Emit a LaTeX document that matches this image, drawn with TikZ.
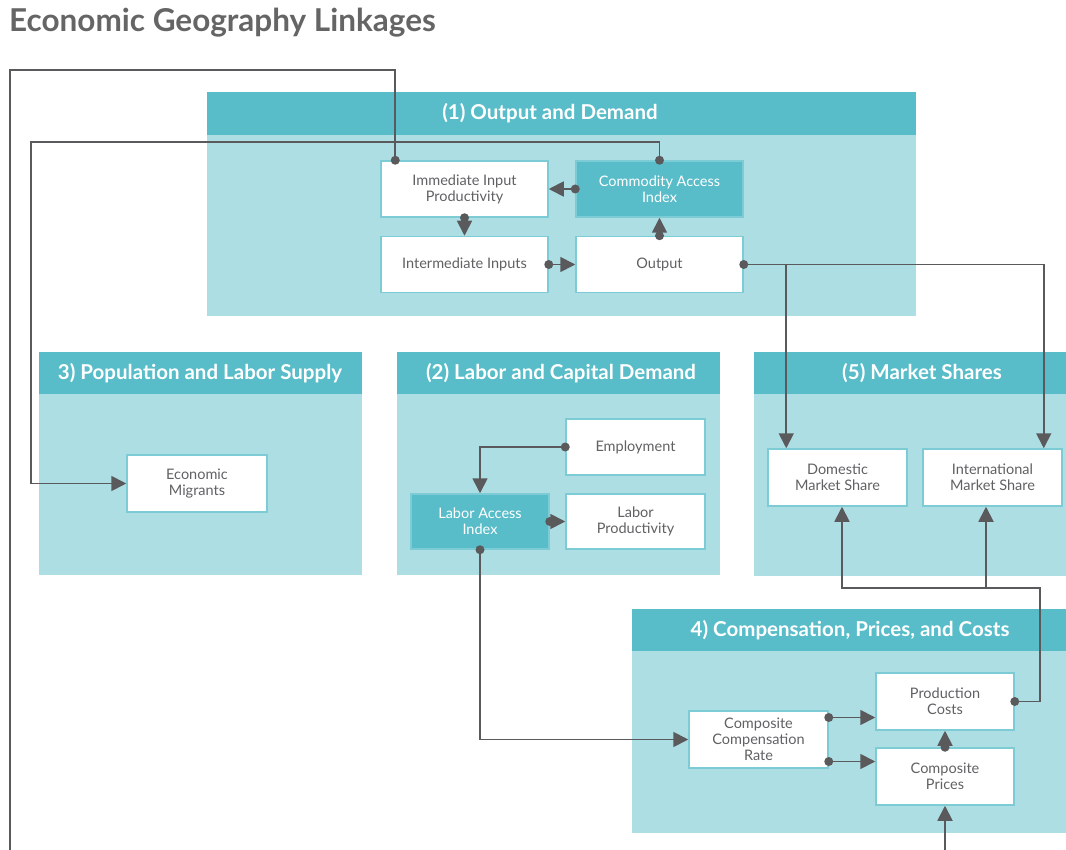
\documentclass[tikz,border=0pt]{standalone}
\usepackage{fontspec}
\setmainfont{Lato}
\usetikzlibrary{arrows.meta,calc}
\definecolor{hdr}{HTML}{58BDC9}
\definecolor{bodyc}{HTML}{ADDEE3}
\definecolor{bord}{HTML}{7DCCD5}
\definecolor{ln}{HTML}{5A5A5C}
\definecolor{txt}{HTML}{606163}
\definecolor{ttl}{HTML}{656565}
\begin{document}
\begin{tikzpicture}[x=1pt,y=-1pt,
  wbox/.style={draw=bord, line width=1.5pt, fill=white, text=txt, align=center,
    font=\fontsize{14.5}{16}\selectfont, inner sep=2pt},
  dbox/.style={wbox, fill=hdr, text=white},
  hdrtext/.style={text=white, font=\bfseries\fontsize{20.5}{24}\selectfont},
  panelbody/.style={fill=bodyc},
  panelhead/.style={fill=hdr},
  conn/.style={draw=ln, line width=1.8pt},
  arr/.style={conn, -{Triangle[length=15pt,width=15pt]}},
  dotc/.style={fill=ln}]
\useasboundingbox (0,0) rectangle (1066,850);

% title
\node[anchor=west, text=ttl, font=\bfseries\fontsize{31.5}{36}\selectfont, inner sep=0pt] (title) at (9,23) {Economic Geography Linkages};

% panels
\fill[panelbody] (207,92) rectangle (916,316);
\fill[panelhead] (207,92) rectangle (916,135);
\node[hdrtext] (h1) at (550,113) {(1) Output and Demand};

\fill[panelbody] (39,352) rectangle (362,575);
\fill[panelhead] (39,352) rectangle (362,394);
\node[hdrtext] (h3) at (200,373) {3) Population and Labor Supply};

\fill[panelbody] (397,352) rectangle (720,575);
\fill[panelhead] (397,352) rectangle (720,394);
\node[hdrtext] (h2) at (561,373) {(2) Labor and Capital Demand};

\fill[panelbody] (754,352) rectangle (1066,576);
\fill[panelhead] (754,352) rectangle (1066,394);
\node[hdrtext] (h5) at (922,373) {(5) Market Shares};

\fill[panelbody] (632,609) rectangle (1066,833);
\fill[panelhead] (632,609) rectangle (1066,651);
\node[hdrtext] (h4) at (850,630) {4) Compensation, Prices, and Costs};

% boxes
\node[wbox, minimum width=167, minimum height=56] (iip) at (464.5,189) {Immediate Input\\Productivity};
\node[dbox, minimum width=167, minimum height=56] (cai) at (659.5,189) {Commodity Access\\Index};
\node[wbox, minimum width=167, minimum height=56] (ii) at (464.5,264.5) {Intermediate Inputs};
\node[wbox, minimum width=167, minimum height=56] (out) at (659.5,264.5) {Output};

\node[wbox, minimum width=140, minimum height=57] (em) at (197,483.5) {Economic\\Migrants};

\node[wbox, minimum width=139, minimum height=56] (emp) at (635.5,447) {Employment};
\node[dbox, minimum width=138, minimum height=55] (lai) at (480,521.5) {Labor Access\\Index};
\node[wbox, minimum width=139, minimum height=55] (lp) at (635.5,521.5) {Labor\\Productivity};

\node[wbox, minimum width=139, minimum height=57] (dms) at (837.5,477.5) {Domestic\\Market Share};
\node[wbox, minimum width=139, minimum height=57] (ims) at (992.5,477.5) {International\\Market Share};

\node[wbox, minimum width=139, minimum height=57] (ccr) at (758.5,739.5) {Composite\\Compensation\\Rate};
\node[wbox, minimum width=138, minimum height=57] (pc) at (945,701.5) {Production\\Costs};
\node[wbox, minimum width=138, minimum height=57] (cp) at (945,776.5) {Composite\\Prices};

% free-end and helper coordinates
\coordinate (lt) at (10,70);
\coordinate (lb) at (10,850);
\coordinate (c2) at (31,142);
\coordinate (c4) at (1040,588);
\coordinate (cpb) at (945,850);
\coordinate (iipt) at ([xshift=15pt]iip.north west);
\coordinate (ccr1) at ([yshift=22pt]ccr.east);
\coordinate (ccr2) at ([yshift=-22pt]ccr.east);
\coordinate (dmst) at ([xshift=19pt]dms.north west);
\coordinate (imst) at ([xshift=-19pt]ims.north east);
\coordinate (dmsb) at ([xshift=4.5pt]dms.south);
\coordinate (imsb) at ([xshift=-6.5pt]ims.south);

% connectors
\draw[conn] (iipt) |- (lt) -- (lb);
\draw[arr] (cai.north) |- (c2) |- (em.west);
\draw[arr] (cai.west) -- (iip.east);
\draw[arr] (iip.south) -- (ii.north);
\draw[arr] (ii.east) -- (out.west);
\draw[arr] (out.north) -- (cai.south);
\draw[arr] (out.east) -| (dmst);
\draw[arr] (out.east) -| (imst);
\draw[arr] (emp.west) -| (lai.north);
\draw[arr] (lai.east) -- (lp.west);
\draw[arr] (lai.south) |- (ccr.west);
\draw[arr] (ccr1) -- (pc.west |- ccr1);
\draw[arr] (ccr2) -- (cp.west |- ccr2);
\draw[arr] (cp.north) -- (pc.south);
\draw[arr] (pc.east) -| (c4) -| (imsb);
\draw[arr] (c4) -| (dmsb);
\draw[arr] (cpb) -- (cp.south);

% dots
\foreach \p in {iipt, cai.north, cai.west, iip.south, ii.east, out.north, out.east, emp.west, lai.east, lai.south, ccr1, ccr2, cp.north, pc.east}
  \fill[dotc] (\p) circle (4.5pt);
\end{tikzpicture}
\end{document}
